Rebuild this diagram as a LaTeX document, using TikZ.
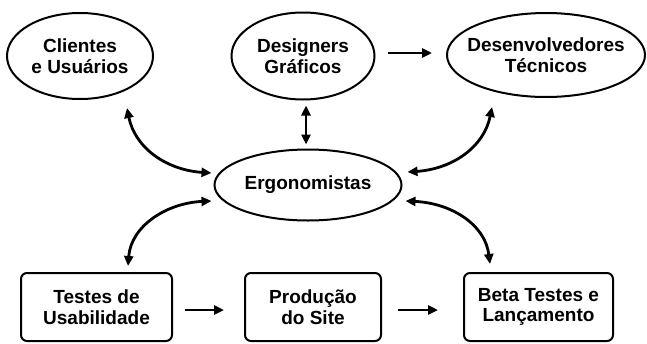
\documentclass[tikz,border=0pt]{standalone}
\usepackage{fontspec}
\setmainfont{Liberation Sans}
\usetikzlibrary{shapes.geometric,arrows.meta}
\begin{document}
\begin{tikzpicture}[x=1pt,y=-1pt,
  ell/.style={draw=black,line width=2pt,ellipse,inner sep=0pt},
  txt/.style={font=\fontsize{19}{21.5}\selectfont\bfseries,align=center,inner sep=0pt},
  boxnode/.style={draw=black,line width=2pt,rounded corners=6pt,inner sep=0pt,
    font=\fontsize{19}{20.5}\selectfont\bfseries,align=center,minimum height=68pt},
  conn/.style={line width=2.8pt,{Triangle[length=10pt,width=9pt]}-{Triangle[length=10pt,width=9pt]}},
  onearrow/.style={line width=2.8pt,-{Triangle[length=10pt,width=9pt]}}
]
\useasboundingbox (0,0) rectangle (647,343);

\node[ell,minimum width=146pt,minimum height=86pt] (cli) at (80,56) {};
\node[txt] (clit) at (cli) {Clientes\\e Usuários};
\node[ell,minimum width=143pt,minimum height=87pt] (des) at (303,56) {};
\node[txt] (dest) at (des) {Designers\\Gráficos};
\node[ell,minimum width=198pt,minimum height=84pt] (dev) at (546,55) {};
\node[txt] (devt) at (dev) {Desenvolvedores\\Técnicos};
\node[ell,minimum width=187pt,minimum height=71pt] (erg) at (308,185) {};
\node[txt] (ergt) at (erg) {Ergonomistas};

\node[boxnode,minimum width=151pt] (b1) at (96.5,307) {Testes de\\Usabilidade};
\node[boxnode,minimum width=136pt] (b2) at (313,307) {Produção\\do Site};
\node[boxnode,minimum width=149pt] (b3) at (538.5,307) {Beta Testes e\\Lançamento};

\draw[onearrow] ([shift={(12,-3)}]des.east) -- ([shift={(-14,-2)}]dev.west);
\draw[conn] ([shift={(3,5)}]des.south) -- ([shift={(-2,-4)}]erg.north);
\draw[conn] ([shift={(47,8)}]cli.south) .. controls +(8,40) and +(-45,-3) .. ([shift={(-2,-12)}]erg.west);
\draw[conn] ([shift={(-54,9)}]dev.south) .. controls +(-8,40) and +(45,-3) .. ([shift={(5,-13)}]erg.east);
\draw[conn] ([shift={(-2,16)}]erg.west) .. controls +(-45,2) and +(3,-40) .. ([shift={(31.5,-6)}]b1.north);
\draw[conn] ([shift={(3,16)}]erg.east) .. controls +(45,2) and +(-5,-40) .. ([shift={(-48.5,-8)}]b3.north);
\draw[onearrow] ([shift={(12,3)}]b1.east) -- ([shift={(-20,3)}]b2.west);
\draw[onearrow] ([shift={(16,3)}]b2.east) -- ([shift={(-25,3)}]b3.west);
\end{tikzpicture}
\end{document}
